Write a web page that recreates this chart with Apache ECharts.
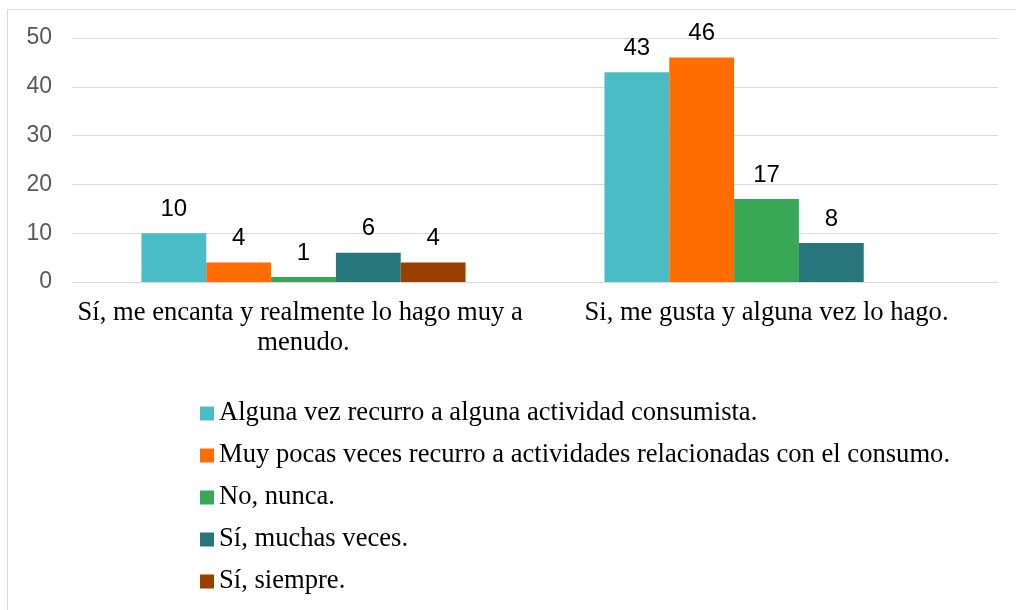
<!DOCTYPE html>
<html>
<head>
<meta charset="utf-8">
<script src="https://cdn.jsdelivr.net/npm/echarts@6/dist/echarts.min.js"></script>
<style>
  html, body { margin: 0; padding: 0; background: #fff; }
  #chart { width: 1016px; height: 610px; }
</style>
</head>
<body>
<div id="chart"></div>
<script>
// categorías del eje X
const categories = ['Sí, me encanta y realmente lo hago muy a menudo.', 'Si, me gusta y alguna vez lo hago.'];
// nombres de las series (leyenda)
const seriesNames = [
  'Alguna vez recurro a alguna actividad consumista.',
  'Muy pocas veces recurro a actividades relacionadas con el consumo.',
  'No, nunca.',
  'Sí, muchas veces.',
  'Sí, siempre.'
];
// valores por serie
const algunaVez = [10, 43];
const muyPocas = [4, 46];
const noNunca = [1, 17];
const muchasVeces = [6, 8];
const siempre = [4, null];
const yTicks = [0, 10, 20, 30, 40, 50];

const values = [algunaVez, muyPocas, noNunca, muchasVeces, siempre];
const colors = ['#4abcc6', '#ff6d00', '#38a856', '#26767b', '#993f00'];

let myChart = echarts.init(document.getElementById('chart'));
let option = {
  animation: false,
  color: colors,
  graphic: [{
    type: 'rect',
    shape: { x: 7.5, y: 9.5, width: 1020, height: 620 },
    style: { fill: 'none', stroke: '#d9d9d9', lineWidth: 1 }
  }],
  legend: {
    orient: 'vertical',
    left: 195,
    top: 395,
    itemWidth: 14,
    itemHeight: 14,
    itemGap: 15,
    icon: 'rect',
    textStyle: {
      fontFamily: 'Liberation Serif',
      fontSize: 26.6,
      color: '#000'
    },
    data: seriesNames
  },
  grid: {
    left: 72,
    right: 18,
    top: 38,
    bottom: 328
  },
  xAxis: {
    type: 'category',
    data: categories,
    axisTick: { show: false },
    axisLine: { lineStyle: { color: '#d9d9d9', width: 1 } },
    axisLabel: {
      interval: 0,
      margin: 16,
      width: 478,
      overflow: 'break',
      lineHeight: 30,
      fontFamily: 'Liberation Serif',
      fontSize: 26.6,
      color: '#000'
    }
  },
  yAxis: {
    type: 'value',
    min: yTicks[0],
    max: yTicks[yTicks.length - 1],
    interval: 10,
    axisLine: { show: false },
    axisTick: { show: false },
    splitLine: { lineStyle: { color: '#d9d9d9', width: 1 } },
    axisLabel: {
      margin: 20,
      fontFamily: 'Liberation Sans',
      fontSize: 23,
      color: '#595959'
    }
  },
  series: seriesNames.map((name, i) => ({
    name: name,
    type: 'bar',
    data: values[i],
    barGap: '0%',
    barCategoryGap: '30%',
    label: {
      show: true,
      position: 'top',
      distance: 12,
      fontFamily: 'Liberation Sans',
      fontSize: 24,
      color: '#000'
    }
  }))
};
myChart.setOption(option);
</script>
</body>
</html>
